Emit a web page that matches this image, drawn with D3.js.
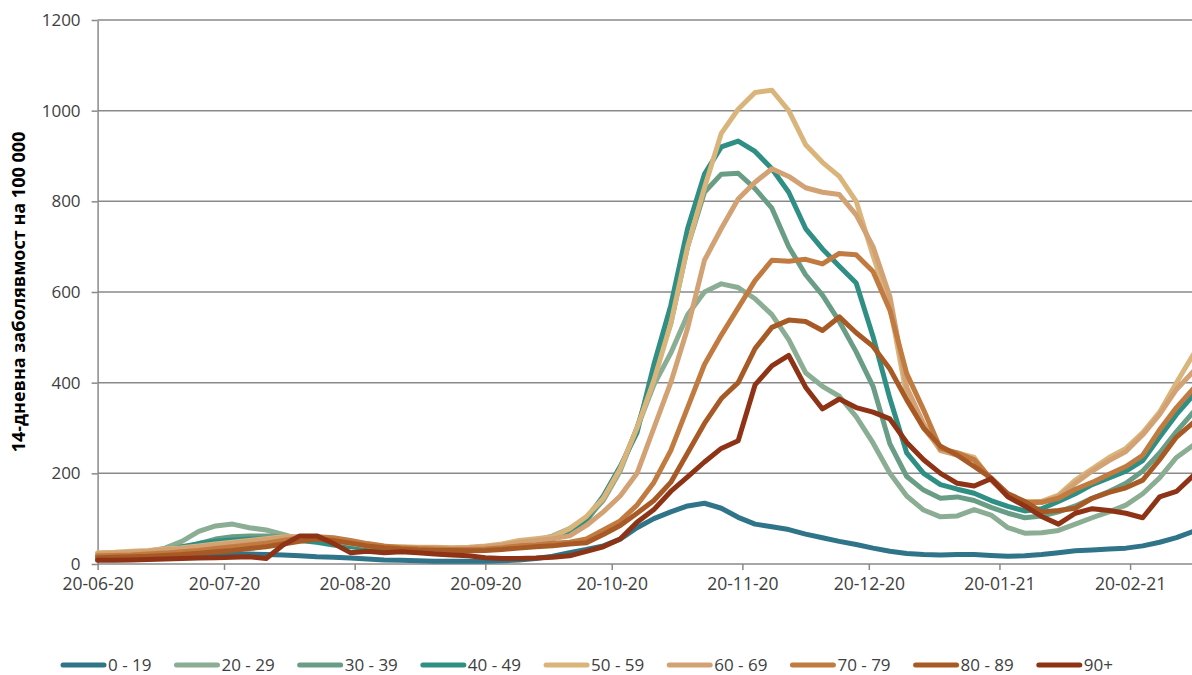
<!DOCTYPE html>
<meta charset="utf-8">
<style>
  body { margin: 0; background: #fff; }
  text { font-family: "Open Sans", sans-serif; }
</style>
<svg width="1192" height="675"></svg>
<script src="https://d3js.org/d3.v7.min.js"></script>
<script>

// age groups and their line colours
var groups = ["0 - 19", "20 - 29", "30 - 39", "40 - 49", "50 - 59", "60 - 69", "70 - 79", "80 - 89", "90+"];
var colors = ["#2f7489", "#8aad93", "#6a9d86", "#2f8f84", "#d9b57b", "#d2a174", "#c17b40", "#a85a26", "#8e3315"];

// one sample every 4 days from 20-06-2020
var startDate = "2020-06-20";
var stepDays = 4;

var xTickDates = ["2020-06-20", "2020-07-20", "2020-08-20", "2020-09-20", "2020-10-20",
                  "2020-11-20", "2020-12-20", "2021-01-20", "2021-02-20"];
var yTicks = [0, 200, 400, 600, 800, 1000, 1200];

// 14-day incidence per 100 000
var s0_19 = [10,11,12,13,14,16,18,20,22,22, 21,20,18,16,15,13,11,9,8,7,
             6,6,6,6,7,9,12,17,25,32, 40,55,80,100,115,128,134,123,103,88,
             82,76,66,58,50,43,35,28,23,21, 20,21,21,19,17,18,21,25,29,31,
             33,35,40,48,58,72];
var s20_29 = [20,22,25,28,35,50,72,84,88,80, 75,65,55,50,45,40,36,34,33,32,
              32,32,33,34,38,45,52,62,78,100, 140,205,300,395,465,550,600,618,610,585,
              550,495,422,392,370,325,267,200,150,119, 104,106,120,108,80,68,69,74,88,102,
              115,130,155,190,235,262];
var s30_39 = [18,20,22,24,28,35,45,55,60,62, 62,60,55,50,45,40,36,34,33,32,
              32,31,32,33,36,41,48,56,70,95, 145,210,300,420,530,700,820,860,862,828,
              785,700,638,593,535,468,392,265,193,163, 145,148,140,125,112,102,106,115,128,145,
              160,178,205,245,292,335];
var s40_49 = [18,20,22,25,30,38,45,50,53,55, 55,54,52,48,42,38,34,32,31,30,
              30,30,31,33,37,42,50,58,72,100, 150,215,290,440,570,740,860,920,933,910,
              872,820,740,695,657,620,502,365,245,200, 175,165,156,140,127,117,122,138,155,175,
              190,205,228,280,330,372];
var s50_59 = [25,26,28,30,33,36,40,44,48,52, 56,60,60,58,52,45,40,38,38,37,
              37,36,37,40,44,52,56,60,78,105, 145,210,300,405,530,700,830,950,1003,1040,
              1045,1000,925,886,855,800,680,570,370,300, 252,245,235,185,155,138,138,152,185,210,
              235,255,290,335,400,462];
var s60_69 = [22,24,26,28,31,34,38,42,46,50, 54,58,60,58,52,46,40,38,37,36,
              36,35,36,38,42,48,52,56,62,85, 115,150,200,300,400,520,670,740,805,842,
              872,855,830,820,815,770,700,590,390,310, 250,240,230,185,150,135,136,148,178,205,
              228,248,285,330,385,425];
var s70_79 = [18,19,20,22,24,27,30,34,38,42, 46,52,58,60,58,52,45,40,36,34,
              33,32,32,33,36,40,42,46,48,55, 75,95,130,180,250,345,440,505,565,625,
              670,668,672,662,685,682,645,560,420,340, 255,245,230,188,152,135,136,145,165,180,
              198,215,240,296,345,387];
var s80_89 = [14,15,16,17,19,21,24,27,30,34, 38,44,50,55,52,46,40,36,33,31,
              30,30,29,30,32,35,38,40,44,47, 65,85,112,140,180,245,310,365,400,475,
              522,538,535,515,545,510,480,430,362,300, 260,240,215,190,155,138,115,118,123,145,
              158,168,185,230,280,312];
var s90 = [8,8,9,10,11,12,13,14,15,16, 12,42,62,62,45,25,28,25,27,25,
           22,20,18,14,12,12,13,15,18,28, 38,55,92,120,160,192,225,255,272,395,
           437,460,390,342,364,345,335,320,268,230, 200,178,172,188,148,128,105,88,112,122,
           118,112,102,148,160,195];

var series = [s0_19, s20_29, s30_39, s40_49, s50_59, s60_69, s70_79, s80_89, s90];

var svg = d3.select("svg"),
    width = +svg.attr("width");

var parse = d3.utcParse("%Y-%m-%d");
var start = parse(startDate);
var dates = s0_19.map(function(d, i) { return d3.utcDay.offset(start, i * stepDays); });

var x = d3.scaleUtc()
    .domain([parse("2020-06-20"), parse("2021-02-20")])
    .range([97.6, 1130.1]);

var y = d3.scaleLinear()
    .domain([0, 1200])
    .range([564, 20]);

var axisColor = "#898989";

// horizontal grid
svg.append("g")
  .selectAll("line")
  .data(yTicks.filter(function(d) { return d > 0; }))
  .enter().append("line")
    .attr("x1", x.range()[0])
    .attr("x2", width)
    .attr("y1", function(d) { return y(d); })
    .attr("y2", function(d) { return y(d); })
    .attr("stroke", axisColor)
    .attr("stroke-width", 1.5);

// y axis
var gy = svg.append("g")
    .attr("transform", "translate(" + x.range()[0] + ",0)")
    .call(d3.axisLeft(y).tickValues(yTicks).tickFormat(d3.format("d"))
        .tickSize(6).tickSizeOuter(0).tickPadding(11));
gy.select(".domain").attr("stroke", axisColor).attr("stroke-width", 1.5);
gy.selectAll(".tick line").attr("stroke", axisColor).attr("stroke-width", 1.5);
gy.selectAll(".tick text")
    .attr("font-size", 17)
    .attr("font-family", "Open Sans")
    .attr("fill", "#404040");

// x axis
var gx = svg.append("g")
    .attr("transform", "translate(0," + y(0) + ")")
    .call(d3.axisBottom(x)
        .tickValues(xTickDates.map(parse))
        .tickFormat(d3.utcFormat("%d-%m-%y"))
        .tickSize(6)
        .tickPadding(8));
gx.select(".domain").remove();
gx.selectAll(".tick line").attr("stroke", axisColor).attr("stroke-width", 1.5);
gx.selectAll(".tick text")
    .attr("font-size", 17.5)
    .attr("font-family", "Open Sans")
    .attr("fill", "#404040");

svg.append("line")
    .attr("x1", x.range()[0])
    .attr("x2", width)
    .attr("y1", y(0))
    .attr("y2", y(0))
    .attr("stroke", axisColor)
    .attr("stroke-width", 1.5);

// lines
var line = d3.line()
    .x(function(d, i) { return x(dates[i]); })
    .y(function(d) { return y(d); });

svg.append("g")
  .selectAll("path")
  .data(series)
  .enter().append("path")
    .attr("d", line)
    .attr("fill", "none")
    .attr("stroke", function(d, i) { return colors[i]; })
    .attr("stroke-width", 5)
    .attr("stroke-linejoin", "round")
    .attr("stroke-linecap", "round");

// y title
svg.append("text")
    .attr("transform", "translate(19," + ((y(0) + y(1200)) / 2) + ") rotate(-90)")
    .attr("text-anchor", "middle")
    .attr("dy", "0.35em")
    .attr("font-size", 18)
    .attr("font-weight", "bold")
    .attr("fill", "#000")
    .text("14-дневна заболявмост на 100 000");

// legend
var legend = svg.append("g").attr("transform", "translate(0,665)");
var lx = 63;
groups.forEach(function(name, i) {
  legend.append("line")
      .attr("x1", lx).attr("x2", lx + 41)
      .attr("y1", 0).attr("y2", 0)
      .attr("stroke", colors[i])
      .attr("stroke-width", 5)
      .attr("stroke-linecap", "round");
  var t = legend.append("text")
      .attr("x", lx + 45)
      .attr("y", 0)
      .attr("dy", "0.35em")
      .attr("font-size", 17)
      .attr("fill", "#404040")
      .text(name);
  lx += 45 + t.node().getComputedTextLength() + 25;
});

</script>
